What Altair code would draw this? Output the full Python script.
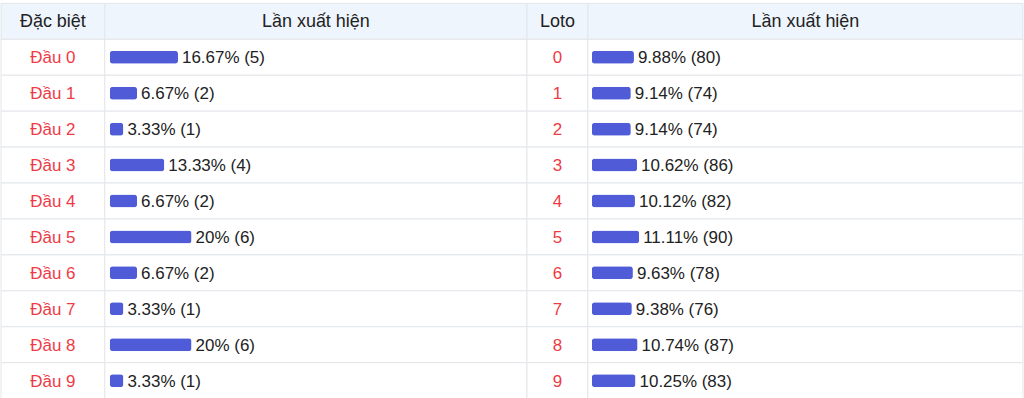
import altair as alt
import pandas as pd

# ---- data ----
db_labels = ["Đầu 0", "Đầu 1", "Đầu 2", "Đầu 3", "Đầu 4", "Đầu 5", "Đầu 6", "Đầu 7", "Đầu 8", "Đầu 9"]
db_pct = [16.67, 6.67, 3.33, 13.33, 6.67, 20, 6.67, 3.33, 20, 3.33]
db_cnt = [5, 2, 1, 4, 2, 6, 2, 1, 6, 1]

loto_labels = ["0", "1", "2", "3", "4", "5", "6", "7", "8", "9"]
loto_pct = [9.88, 9.14, 9.14, 10.62, 10.12, 11.11, 9.63, 9.38, 10.74, 10.25]
loto_cnt = [80, 74, 74, 86, 82, 90, 78, 76, 87, 83]

headers = ["Đặc biệt", "Lần xuất hiện", "Loto", "Lần xuất hiện"]

# ---- style ----
FONT = "Liberation Sans"
RED = "#ef3a45"
BLUE = "#4f5bd7"
HDR = "#eef5fd"
BORDER = "#e3e6ea"
TXT = "#222222"
H = 396
rows = ["H"] + [str(i) for i in range(10)]
yenc = alt.Y("row:N", scale=alt.Scale(domain=rows, paddingInner=0, paddingOuter=0), axis=None)


def cells(w):
    df = pd.DataFrame({"row": rows, "kind": ["h"] + ["b"] * 10})
    return alt.Chart(df).mark_rect(stroke=BORDER, strokeWidth=1).encode(
        x=alt.value(0), x2=alt.value(w), y=yenc,
        fill=alt.Fill("kind:N", scale=alt.Scale(domain=["h", "b"], range=[HDR, "#ffffff"]), legend=None),
    )


def header(w, title):
    df = pd.DataFrame({"row": ["H"], "t": [title]})
    return alt.Chart(df).mark_text(font=FONT, fontSize=18, color=TXT, dy=1).encode(
        x=alt.value(w / 2), y=yenc, text="t:N"
    )


def label_panel(w, labels, title):
    df = pd.DataFrame({"row": [str(i) for i in range(10)], "t": labels})
    txt = alt.Chart(df).mark_text(font=FONT, fontSize=17, color=RED, dy=1).encode(
        x=alt.value(w / 2), y=yenc, text="t:N"
    )
    return alt.layer(cells(w), header(w, title), txt).properties(width=w, height=H)


def bar_panel(w, pct, cnt, title, r0, r1):
    df = pd.DataFrame({
        "row": [str(i) for i in range(10)],
        "pct": pct,
        "lab": [f"{p:g}% ({c})" for p, c in zip(pct, cnt)],
    })
    xs = alt.X("pct:Q", scale=alt.Scale(domain=[0, 100], range=[r0, r1]), axis=None)
    bars = alt.Chart(df).mark_bar(color=BLUE, height=13, cornerRadius=3).encode(x=xs, y=yenc)
    txt = alt.Chart(df).mark_text(font=FONT, fontSize=17, color=TXT, align="left", dx=4, dy=1).encode(
        x=xs, y=yenc, text="lab:N"
    )
    return alt.layer(cells(w), header(w, title), bars, txt).properties(width=w, height=H)


p1 = label_panel(104, db_labels, headers[0])
p2 = bar_panel(423, db_pct, db_cnt, headers[1], 5, 415)
p3 = label_panel(61, loto_labels, headers[2])
p4 = bar_panel(436, loto_pct, loto_cnt, headers[3], 4, 431)

chart = alt.hconcat(p1, p2, p3, p4, spacing=0, bounds="flush").properties(
    padding={"left": 0, "top": 2, "right": 0, "bottom": 0},
    background="#ffffff",
).configure_view(stroke=None).configure_concat(spacing=0)

chart.save("out.html", embed_options={"renderer": "svg", "actions": False})
